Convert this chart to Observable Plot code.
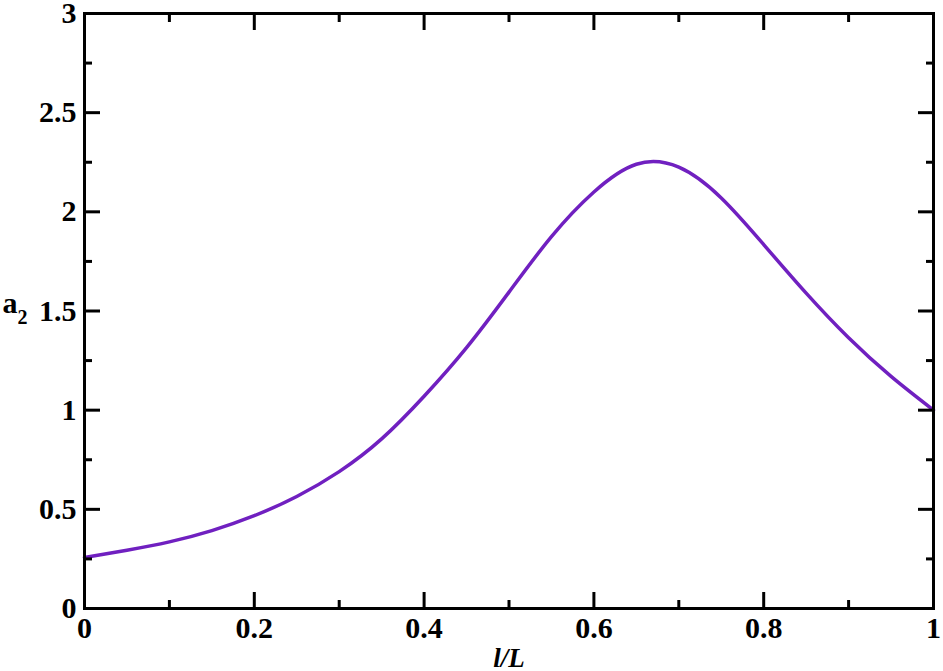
<!DOCTYPE html>
<html>
<head>
<meta charset="utf-8">
<script src="https://cdn.jsdelivr.net/npm/d3@7"></script>
<script src="https://cdn.jsdelivr.net/npm/@observablehq/plot@0.6"></script>
<style>
  html, body { margin: 0; padding: 0; background: #fff; }
  #chart svg { display: block; overflow: visible; }
</style>
</head>
<body>
<div id="chart"></div>
<script>
// Curve a2 vs l/L
const lValues  = [0, 0.05, 0.1, 0.15, 0.2, 0.25, 0.3, 0.35, 0.4, 0.45, 0.5, 0.55, 0.6, 0.65, 0.7, 0.75, 0.8, 0.85, 0.9, 0.95, 1];
const a2Values = [0.257, 0.294, 0.336, 0.393, 0.468, 0.565, 0.69, 0.855, 1.07, 1.315, 1.595, 1.875, 2.10, 2.24, 2.225, 2.07, 1.835, 1.59, 1.365, 1.17, 1.0];

const xMajorTicks = [0, 0.2, 0.4, 0.6, 0.8, 1];
const xMinorTicks = [0.1, 0.3, 0.5, 0.7, 0.9];
const yMajorTicks = [0, 0.5, 1, 1.5, 2, 2.5, 3];
const yMinorTicks = [0.25, 0.75, 1.25, 1.75, 2.25, 2.75];
const xTickLabels = ["0", "0.2", "0.4", "0.6", "0.8", "1"];
const yTickLabels = ["0", "0.5", "1", "1.5", "2", "2.5", "3"];

const curve = lValues.map((l, i) => ({l, a2: a2Values[i]}));
const font = "'Liberation Serif', 'Times New Roman', serif";
const blank = () => "";

const tickAxes = [];
for (const anchor of ["bottom", "top"]) {
  tickAxes.push(Plot.axisX(xMajorTicks, {anchor, tickSize: -16, strokeWidth: 3, tickFormat: blank, label: null}));
  tickAxes.push(Plot.axisX(xMinorTicks, {anchor, tickSize: -8, strokeWidth: 3, tickFormat: blank, label: null}));
}
for (const anchor of ["left", "right"]) {
  tickAxes.push(Plot.axisY(yMajorTicks, {anchor, tickSize: -16, strokeWidth: 3, tickFormat: blank, label: null}));
  tickAxes.push(Plot.axisY(yMinorTicks, {anchor, tickSize: -8, strokeWidth: 3, tickFormat: blank, label: null}));
}

const chart = Plot.plot({
  width: 943,
  height: 671,
  marginLeft: 84,
  marginRight: 10,
  marginTop: 13,
  marginBottom: 63,
  style: {background: "#fff", fontFamily: font, overflow: "visible"},
  x: {domain: [0, 1], axis: null},
  y: {domain: [0, 3], axis: null},
  marks: [
    Plot.line(curve, {x: "l", y: "a2", stroke: "#7020c0", strokeWidth: 3.5, curve: "natural"}),
    ...tickAxes,
    Plot.axisX(xMajorTicks, {anchor: "bottom", tickSize: 0, tickPadding: 8, tickFormat: (d, i) => xTickLabels[i],
      fontSize: 30, fontWeight: "bold", fontFamily: font, fill: "#000", label: null}),
    Plot.axisY(yMajorTicks, {anchor: "left", tickSize: 0, tickPadding: 8, tickFormat: (d, i) => yTickLabels[i],
      fontSize: 30, fontWeight: "bold", fontFamily: font, fill: "#000", label: null}),
    Plot.frame({stroke: "#000", strokeWidth: 3}),
    Plot.text(["l/L"], {frameAnchor: "bottom", lineAnchor: "bottom", dy: 58, fontSize: 27,
      fontWeight: "bold", fontStyle: "italic", fontFamily: font, fill: "#000"}),
    Plot.text(["a"], {frameAnchor: "left", textAnchor: "start", lineAnchor: "bottom", dx: -82, dy: 2,
      fontSize: 30, fontWeight: "bold", fontFamily: font, fill: "#000"}),
    Plot.text(["2"], {frameAnchor: "left", textAnchor: "start", lineAnchor: "bottom", dx: -67, dy: 13,
      fontSize: 20, fontWeight: "bold", fontFamily: font, fill: "#000"})
  ]
});
document.getElementById("chart").append(chart);
</script>
</body>
</html>
